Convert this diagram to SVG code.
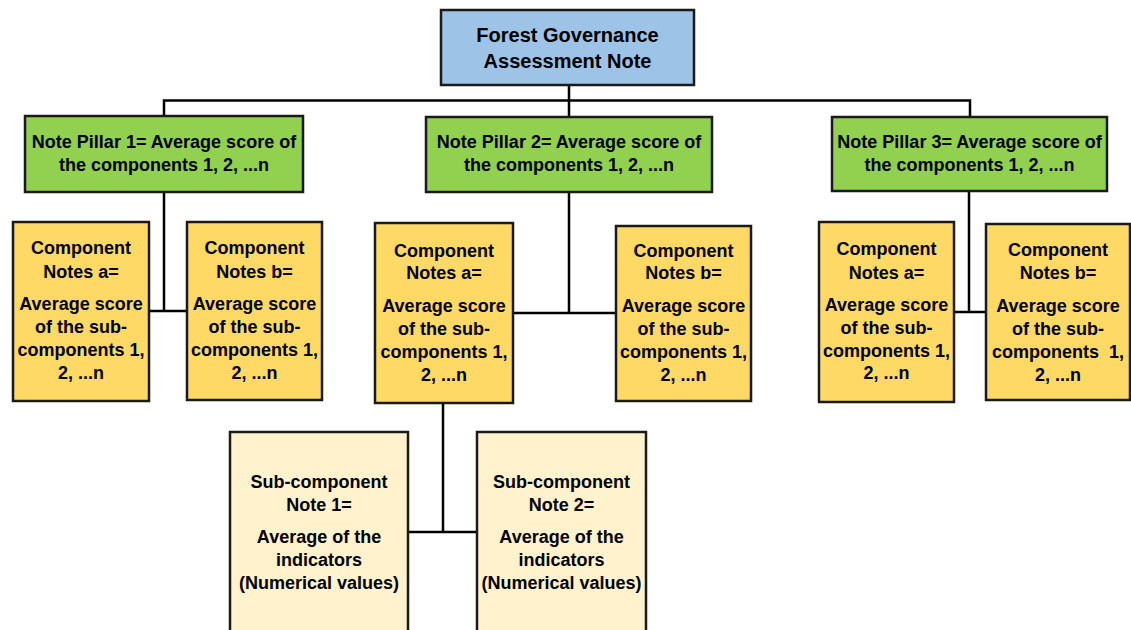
<svg xmlns="http://www.w3.org/2000/svg" width="1131" height="630" viewBox="0 0 1131 630">
<style>
.box{stroke:#1a1a1a;stroke-width:2.5}
.top{fill:#9dc3e6}
.pil{fill:#92d050}
.comp{fill:#ffd966}
.sub{fill:#fff2cc}
.conn{fill:none;stroke:#000;stroke-width:2.5}
text{font-family:"Liberation Sans",Arial,sans-serif;font-weight:bold;font-size:18px;fill:#000;text-anchor:middle}
.t20{font-size:20px}
</style>
<rect width="1131" height="630" fill="#fff"/>
<g id="connectors">
<path class="conn" d="M569 85V117M164 116V100.5H970V117"/>
<path class="conn" d="M164 192V311M149 311H187"/>
<path class="conn" d="M569 192V313M513 313H616"/>
<path class="conn" d="M969 191V312M954 312H986"/>
<path class="conn" d="M443 403V532M408 532H477"/>
</g>
<g id="root">
<rect class="box top" x="441" y="10" width="253" height="75"/>
<text class="t20" x="567.5" y="42">Forest Governance</text>
<text class="t20" x="567.5" y="68">Assessment Note</text>
</g>
<g id="pillar1">
<rect class="box pil" x="25" y="116" width="278" height="76"/>
<text x="164" y="148">Note Pillar 1= Average score of</text>
<text x="164" y="171">the components 1, 2, ...n</text>
</g>
<g id="pillar2">
<rect class="box pil" x="426" y="117" width="286" height="75"/>
<text x="569" y="148">Note Pillar 2= Average score of</text>
<text x="569" y="171">the components 1, 2, ...n</text>
</g>
<g id="pillar3">
<rect class="box pil" x="832" y="117" width="275" height="74"/>
<text x="969.5" y="148">Note Pillar 3= Average score of</text>
<text x="969.5" y="171">the components 1, 2, ...n</text>
</g>
<g id="p1a">
<rect class="box comp" x="13" y="222" width="136" height="179"/>
<text x="81" y="254">Component</text>
<text x="81" y="278">Notes a=</text>
<text x="81" y="310">Average score</text>
<text x="81" y="333">of the sub-</text>
<text x="81" y="356">components 1,</text>
<text x="81" y="379">2, ...n</text>
</g>
<g id="p1b">
<rect class="box comp" x="187" y="222" width="135" height="178"/>
<text x="254.5" y="254">Component</text>
<text x="254.5" y="278">Notes b=</text>
<text x="254.5" y="310">Average score</text>
<text x="254.5" y="333">of the sub-</text>
<text x="254.5" y="356">components 1,</text>
<text x="254.5" y="379">2, ...n</text>
</g>
<g id="p2a">
<rect class="box comp" x="375" y="223" width="138" height="180"/>
<text x="444" y="257">Component</text>
<text x="444" y="279">Notes a=</text>
<text x="444" y="312">Average score</text>
<text x="444" y="335">of the sub-</text>
<text x="444" y="358">components 1,</text>
<text x="444" y="381">2, ...n</text>
</g>
<g id="p2b">
<rect class="box comp" x="616" y="226" width="135" height="175"/>
<text x="683.5" y="257">Component</text>
<text x="683.5" y="279">Notes b=</text>
<text x="683.5" y="312">Average score</text>
<text x="683.5" y="335">of the sub-</text>
<text x="683.5" y="358">components 1,</text>
<text x="683.5" y="381">2, ...n</text>
</g>
<g id="p3a">
<rect class="box comp" x="819" y="222" width="135" height="180"/>
<text x="886.5" y="255">Component</text>
<text x="886.5" y="279">Notes a=</text>
<text x="886.5" y="311">Average score</text>
<text x="886.5" y="334">of the sub-</text>
<text x="886.5" y="357">components 1,</text>
<text x="886.5" y="379">2, ...n</text>
</g>
<g id="p3b">
<rect class="box comp" x="986" y="224" width="144" height="176"/>
<text x="1058" y="256">Component</text>
<text x="1058" y="279">Notes b=</text>
<text x="1058" y="312">Average score</text>
<text x="1058" y="335">of the sub-</text>
<text x="1058" y="358" xml:space="preserve">components  1,</text>
<text x="1058" y="381">2, ...n</text>
</g>
<g id="sub1">
<rect class="box sub" x="230" y="432" width="178" height="210"/>
<text x="319" y="488">Sub-component</text>
<text x="319" y="511">Note 1=</text>
<text x="319" y="543">Average of the</text>
<text x="319" y="566">indicators</text>
<text x="319" y="589">(Numerical values)</text>
</g>
<g id="sub2">
<rect class="box sub" x="477" y="432" width="169" height="210"/>
<text x="561.5" y="488">Sub-component</text>
<text x="561.5" y="511">Note 2=</text>
<text x="561.5" y="543">Average of the</text>
<text x="561.5" y="566">indicators</text>
<text x="561.5" y="589">(Numerical values)</text>
</g>
</svg>
